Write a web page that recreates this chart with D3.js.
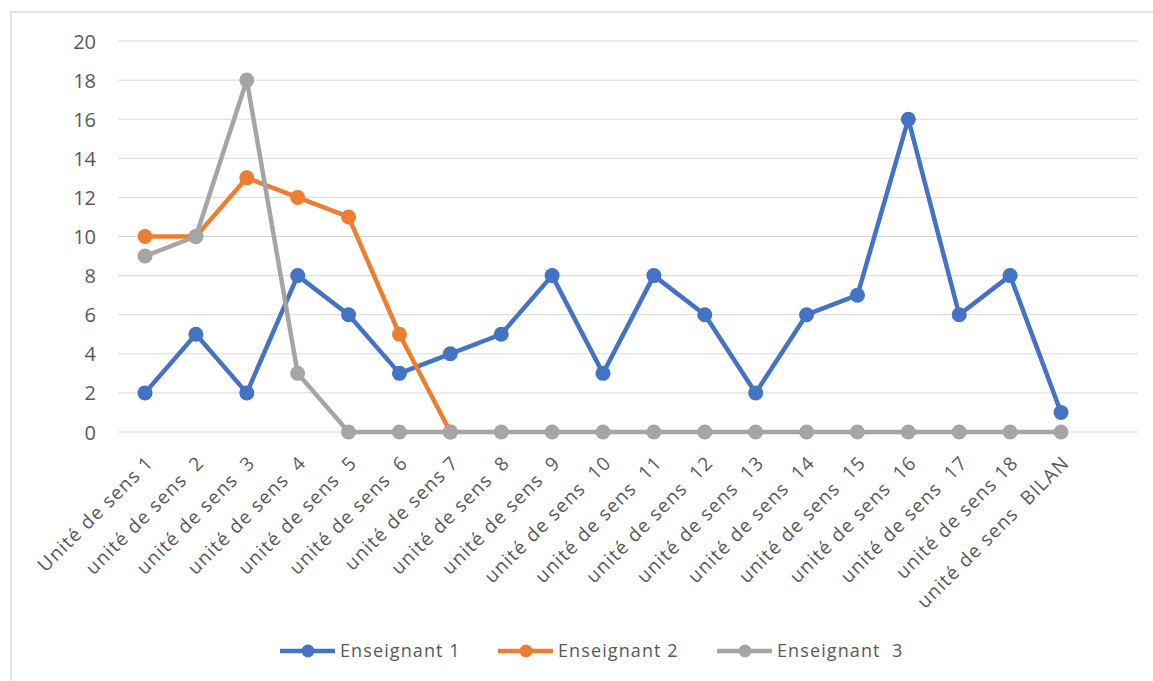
<!DOCTYPE html>
<html>
<head>
<meta charset="utf-8">
<script src="https://cdn.jsdelivr.net/npm/d3@7"></script>
<style>
html,body{margin:0;padding:0;background:#fff;}
svg text{font-family:"Open Sans","Liberation Sans",sans-serif;fill:#595959;}
</style>
</head>
<body>
<svg id="chart" width="1153" height="681"></svg>
<script>
const categories = ["Unité de sens 1","unité de sens  2","unité de sens  3","unité de sens  4","unité de sens  5","unité de sens  6","unité de sens 7","unité de sens  8","unité de sens  9","unité de sens  10","unité de sens  11","unité de sens  12","unité de sens  13","unité de sens  14","unité de sens  15","unité de sens  16","unité de sens  17","unité de sens 18","unité de sens  BILAN"];
const seriesNames = ["Enseignant 1","Enseignant 2","Enseignant  3"];
const enseignant1 = [2,5,2,8,6,3,4,5,8,3,8,6,2,6,7,16,6,8,1];
const enseignant2 = [10,10,13,12,11,5,0,null,null,null,null,null,null,null,null,null,null,null,null];
const enseignant3 = [9,10,18,3,0,0,0,0,0,0,0,0,0,0,0,0,0,0,0];
const yTicks = [0,2,4,6,8,10,12,14,16,18,20];
const colors = ["#4472C4","#ED7D31","#A5A5A5"];

const svg = d3.select("#chart");
svg.append("rect").attr("x",11).attr("y",12).attr("width",1160).attr("height",700)
  .attr("fill","none").attr("stroke","#D9D9D9").attr("stroke-width",1.5);

const plotLeft = 118, plotRight = 1138;
const x = d3.scalePoint().domain(categories).range([145, 1061]);
const y = d3.scaleLinear().domain([0,20]).range([432, 41]);

// gridlines
svg.append("g").selectAll("line").data(yTicks).join("line")
  .attr("x1",plotLeft).attr("x2",plotRight)
  .attr("y1",d=>y(d)).attr("y2",d=>y(d))
  .attr("stroke","#D9D9D9").attr("stroke-width",1);

// y axis labels
const yAxis = d3.axisLeft(y).tickValues(yTicks).tickSize(0).tickPadding(0);
const gy = svg.append("g").attr("transform","translate(96,0)").call(yAxis);
gy.select(".domain").remove();
gy.selectAll("text").attr("font-size",20).style("font-family",'"Open Sans","Liberation Sans",sans-serif').attr("fill","#595959").attr("dy","0.35em");

// x axis labels
const xAxis = d3.axisBottom(x).tickSize(0).tickPadding(0);
const gx = svg.append("g").attr("transform","translate(0,432)").call(xAxis);
gx.select(".domain").remove();
gx.selectAll("text")
  .attr("font-size",19).style("font-family",'"Open Sans","Liberation Sans",sans-serif').attr("fill","#595959")
  .style("white-space","pre").style("letter-spacing","1.2px")
  .attr("text-anchor","end")
  .attr("y",0).attr("dy","0")
  .attr("transform","translate(9,32) rotate(-45)");

const seriesData = [enseignant1, enseignant2, enseignant3];
const line = d3.line().defined(d=>d.v!==null).x(d=>x(d.c)).y(d=>y(d.v));

seriesData.forEach((vals,i)=>{
  const pts = vals.map((v,j)=>({c:categories[j], v:v}));
  const g = svg.append("g");
  g.append("path").datum(pts).attr("d",line).attr("fill","none")
    .attr("stroke",colors[i]).attr("stroke-width",4.5).attr("stroke-linejoin","round");
  g.selectAll("circle").data(pts.filter(d=>d.v!==null)).join("circle")
    .attr("cx",d=>x(d.c)).attr("cy",d=>y(d.v)).attr("r",7.5).attr("fill",colors[i]);
});

// legend
const legendX = [280, 498, 717];
const lg = svg.append("g");
seriesNames.forEach((n,i)=>{
  const lx = legendX[i], ly = 651;
  lg.append("line").attr("x1",lx).attr("x2",lx+55).attr("y1",ly).attr("y2",ly)
    .attr("stroke",colors[i]).attr("stroke-width",4.5);
  lg.append("circle").attr("cx",lx+28).attr("cy",ly).attr("r",6.5).attr("fill",colors[i]);
  lg.append("text").attr("x",lx+60).attr("y",ly).attr("dy","0.35em")
    .attr("font-size",18).style("white-space","pre").style("letter-spacing","1.1px").text(n);
});
</script>
</body>
</html>
